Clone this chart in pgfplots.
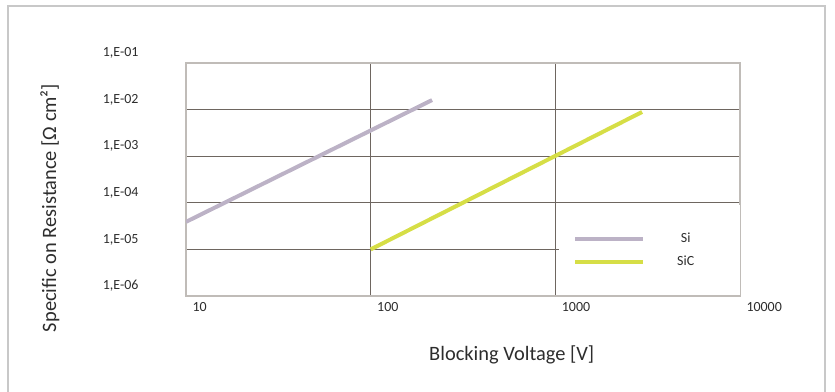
\documentclass[border=0pt]{standalone}
\usepackage{fontspec}
\setmainfont{Carlito}
\usepackage{pgfplots}
\pgfplotsset{compat=1.18}
\definecolor{sicol}{RGB}{188,178,198}
\definecolor{siccol}{RGB}{214,222,70}
\definecolor{gridcol}{RGB}{110,102,96}
\definecolor{framecol}{RGB}{192,188,184}
\definecolor{txt}{RGB}{45,45,45}
\begin{document}
\begin{tikzpicture}
\path[use as bounding box] (0,0) rectangle (835bp,392bp);
\draw[color={rgb,255:red,200;green,200;blue,200}, line width=1.2bp] (8bp,0) -- (8bp,386bp) -- (825bp,386bp) -- (825bp,0);
\begin{axis}[
  at={(186bp,96bp)}, anchor=south west,
  scale only axis, width=554bp, height=233bp,
  xmode=log, ymode=log,
  xmin=10, xmax=10000, ymin=1e-6, ymax=1e-1,
  xtick={10,100,1000,10000},
  xticklabels={10,100,1000,10000},
  ytick={1e-6,1e-5,1e-4,1e-3,1e-2,1e-1},
  yticklabels={{1,E-06},{1,E-05},{1,E-04},{1,E-03},{1,E-02},{1,E-01}},
  xminorticks=false, yminorticks=false,
  major tick length=0pt, minor tick length=0pt,
  grid=major,
  major grid style={line width=1bp, color=gridcol},
  axis line style={line width=1.5bp, color=framecol},
  tick label style={font=\fontsize{14}{16}\selectfont, color=txt},
  xticklabel style={anchor=north west, xshift=3bp, yshift=-3bp},
  yticklabel style={anchor=east, xshift=-44bp, yshift=10bp},
  xlabel={Blocking Voltage [V]},
  ylabel={Specific on Resistance [Ω cm²]},
  label style={font=\fontsize{20.5}{24}\selectfont, color=txt},
  xlabel style={at={(axis description cs:0.588,-0.253)}, anchor=center},
  ylabel style={at={(axis description cs:-0.2455,0.378)}, anchor=center},
  legend style={at={(axis description cs:0.6733,0.39)}, anchor=north west,
    fill=white, draw=none, inner xsep=14bp, inner ysep=26bp,
    font=\fontsize{14}{16}\selectfont, text=txt,
    nodes={text width=77bp, align=center},
    row sep=8bp},
  legend image code/.code={\draw[#1] (0bp,0bp) -- (68bp,0bp);},
]
\addplot[color=sicol, line width=4bp] coordinates {(10,3.9e-5) (215,1.6e-2)};
\addlegendentry{Si}
\addplot[color=siccol, line width=4bp] coordinates {(100,1e-5) (2950,8.9e-3)};
\addlegendentry{SiC}
\end{axis}
\end{tikzpicture}
\end{document}
